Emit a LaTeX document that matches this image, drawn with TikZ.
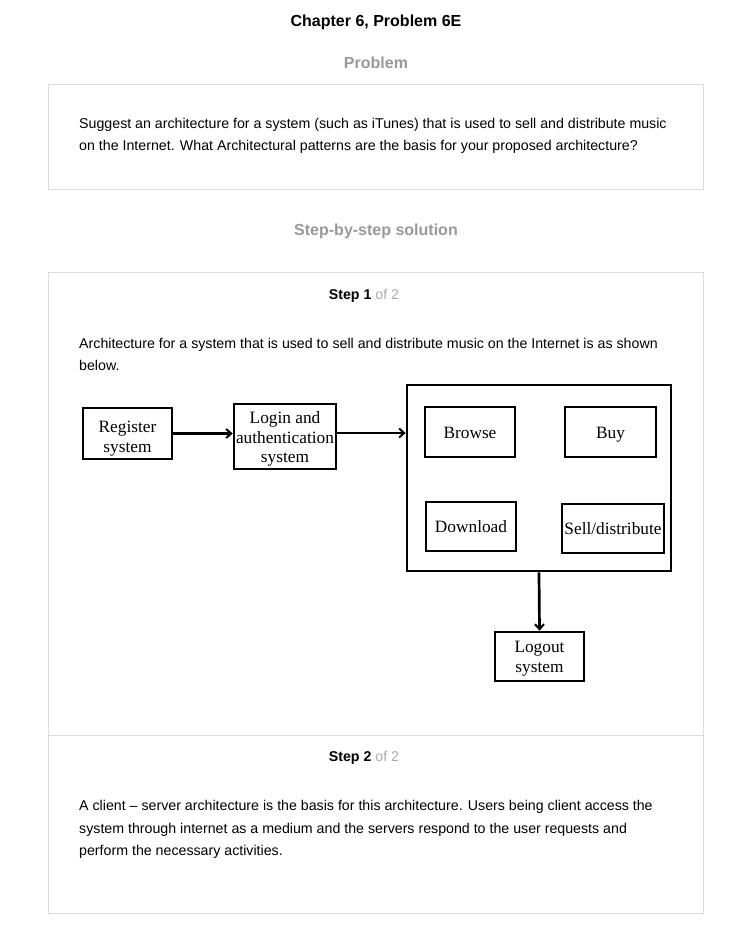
\documentclass[tikz,border=0pt]{standalone}
\usepackage{fontspec}
\setmainfont{Liberation Sans}
\newfontfamily\serifdiag{Liberation Serif}
\usetikzlibrary{arrows.meta}
\definecolor{framegrey}{HTML}{DDDDDD}
\definecolor{headgrey}{HTML}{999999}
\definecolor{lightgrey}{HTML}{AAAAAA}
\begin{document}
\begin{tikzpicture}[x=1pt,y=-1pt,
  frame/.style={draw=framegrey,line width=1pt},
  bodytext/.style={anchor=base west,inner sep=0pt,font=\fontsize{14.2}{17}\selectfont},
  headtext/.style={anchor=base,inner sep=0pt,font=\fontsize{16}{19}\selectfont\bfseries,text=headgrey},
  steptext/.style={anchor=base,inner sep=0pt,font=\fontsize{14.2}{17}\selectfont},
  dbox/.style={draw=black,line width=2.7pt,inner sep=0pt,align=center,font=\serifdiag\fontsize{17.3}{19.5}\selectfont},
  oneline/.style={text height=2.4ex,text depth=0ex},
  darrow/.style={line width=2.7pt,-{Straight Barb[length=5pt,width=9pt,line width=2pt]}}
]
\useasboundingbox[fill=white] (0,0) rectangle (752,940);
% header
\node[anchor=base,inner sep=0pt,font=\fontsize{16}{19}\selectfont\bfseries] (title) at (376,26) {Chapter 6, Problem 6E};
\node[headtext] (probhead) at (376,68) {Problem};
\draw[frame] (48,84) rectangle (703,189);
\node[bodytext] (p1) at (79,128) {Suggest an architecture for a system (such as iTunes) that is used to sell and distribute music};
\node[bodytext] (p2) at (79,150) {on the Internet. What Architectural patterns are the basis for your proposed architecture?};
\node[headtext] (solhead) at (376,235) {Step-by-step solution};
% solution frame
\draw[frame] (48,272) rectangle (703,913);
\draw[frame] (48,735) -- (703,735);
\node[steptext] (s1) at (364,299) {\textbf{Step 1} \textcolor{lightgrey}{of 2}};
\node[bodytext] (t1) at (79,348) {Architecture for a system that is used to sell and distribute music on the Internet is as shown};
\node[bodytext] (t2) at (79,370) {below.};
% diagram
\node[dbox,minimum width=89pt,minimum height=51pt] (reg) at (127.5,433.5) {\rule{0pt}{21.5pt}Register\\system};
\node[dbox,minimum width=102pt,minimum height=65pt] (login) at (285,436.5) {\rule{0pt}{17.5pt}Login and\\authentication\\system};
\node[dbox,minimum width=264pt,minimum height=186pt] (main) at (539,478) {};
\node[dbox,oneline,minimum width=90pt,minimum height=50pt] (browse) at (470,432) {Browse};
\node[dbox,oneline,minimum width=91pt,minimum height=50pt] (buy) at (610.5,432) {Buy};
\node[dbox,oneline,minimum width=90pt,minimum height=49pt] (down) at (471,526.5) {Download};
\node[dbox,oneline,minimum width=102pt,minimum height=49pt] (sell) at (613,528.5) {Sell/distribute};
\node[dbox,minimum width=89pt,minimum height=49pt] (logout) at (539.5,656.5) {\rule{0pt}{15.5pt}Logout\\system};
\draw[darrow] (reg.east) -- (login.west |- reg.east);
\draw[darrow] (login.east |- 0,433) -- (main.west |- 0,433);
\draw[darrow] (main.south) -- (logout.north);
% step 2
\node[steptext] (s2) at (364,761) {\textbf{Step 2} \textcolor{lightgrey}{of 2}};
\node[bodytext] (u1) at (79,810) {A client -- server architecture is the basis for this architecture. Users being client access the};
\node[bodytext] (u2) at (79,833) {system through internet as a medium and the servers respond to the user requests and};
\node[bodytext] (u3) at (79,855) {perform the necessary activities.};
\end{tikzpicture}
\end{document}
